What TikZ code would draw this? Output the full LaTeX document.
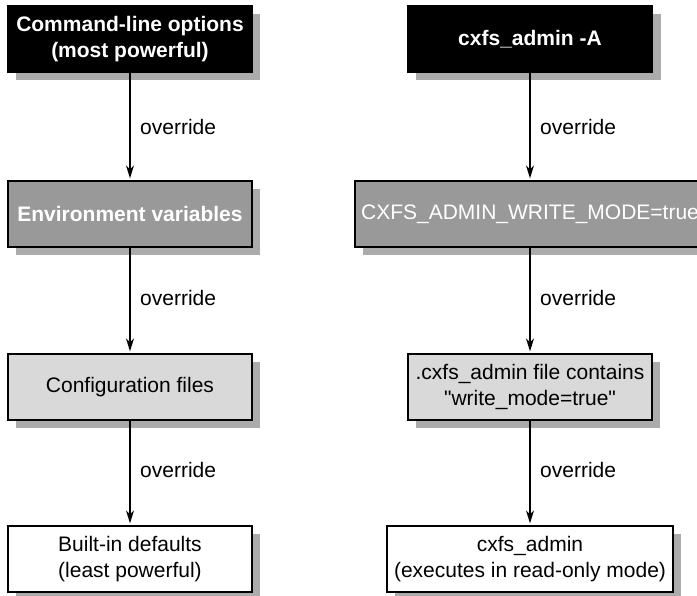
\documentclass[tikz,border=0pt]{standalone}
\usepackage{fontspec}
\setmainfont{Liberation Sans}
\usetikzlibrary{arrows.meta,shadows}
\tikzset{
  box/.style={draw=black, line width=1.3pt, minimum width=244pt, minimum height=66pt,
    align=center, inner sep=0pt, font=\fontsize{21}{26}\selectfont,
    drop shadow={shadow xshift=8pt, shadow yshift=-8pt, fill=black!33, opacity=1}},
  blackbox/.style={box, fill=black, text=white, font=\fontsize{21}{26}\selectfont\bfseries},
  graybox/.style={box, fill=black!40, text=white},
  lightbox/.style={box, fill=black!15},
  whitebox/.style={box, fill=white},
  arr/.style={-{Stealth[length=13pt,width=8pt]}, line width=1.3pt, shorten >=2pt},
  lbl/.style={anchor=west, inner sep=0pt, font=\fontsize{21}{26}\selectfont}
}
\begin{document}
\begin{tikzpicture}[x=1pt,y=-1pt]
\clip (0,0) rectangle (697,596);
\fill[white] (0,0) rectangle (697,596);
% left column
\node[blackbox] (l1) at (130,39) {Command-line options\\(most powerful)};
\node[graybox, font=\fontsize{21}{26}\selectfont\bfseries] (l2) at (130,214) {Environment variables};
\node[lightbox] (l3) at (130,387) {Configuration files};
\node[whitebox] (l4) at (130,559) {Built-in defaults\\(least powerful)};
% right column
\node[blackbox, minimum width=245pt] (r1) at (530,39) {cxfs\_admin -A};
\node[graybox, minimum width=350pt] (r2) at (530,214) {CXFS\_ADMIN\_WRITE\_MODE=true};
\node[lightbox] (r3) at (530,387) {.cxfs\_admin file contains\\\textquotedbl write\_mode=true\textquotedbl};
\node[whitebox, minimum width=286pt] (r4) at (530,559) {cxfs\_admin\\(executes in read-only mode)};
% arrows
\draw[arr] (l1) -- (l2);
\draw[arr] (l2) -- (l3);
\draw[arr] (l3) -- (l4);
\draw[arr] (r1) -- (r2);
\draw[arr] (r2) -- (r3);
\draw[arr] (r3) -- (r4);
% labels
\node[lbl] (ol1) at (140,127) {override};
\node[lbl] (ol2) at (140,298) {override};
\node[lbl] (ol3) at (140,470) {override};
\node[lbl] (or1) at (540,127) {override};
\node[lbl] (or2) at (540,298) {override};
\node[lbl] (or3) at (540,470) {override};
\end{tikzpicture}
\end{document}
